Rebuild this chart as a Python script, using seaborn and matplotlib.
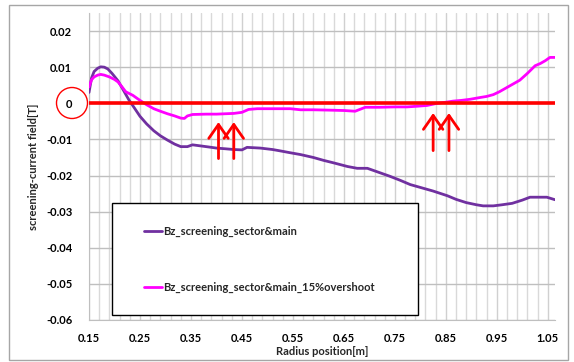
import numpy as np
import pandas as pd
import matplotlib
matplotlib.use("Agg")
import matplotlib.pyplot as plt
import seaborn as sns
from matplotlib.patches import Rectangle, Ellipse
from matplotlib.ticker import FixedLocator

# Data
r_main = [0.150, 0.155, 0.160, 0.167, 0.173, 0.180, 0.187, 0.195, 0.207, 0.218,
          0.228, 0.240, 0.250, 0.263, 0.277, 0.290, 0.304, 0.318, 0.330, 0.343,
          0.353, 0.369, 0.385, 0.400, 0.418, 0.434, 0.450, 0.460, 0.486, 0.510,
          0.526, 0.545, 0.565, 0.590, 0.610, 0.630, 0.657, 0.676, 0.696, 0.720,
          0.740, 0.760, 0.780, 0.800, 0.825, 0.853, 0.870, 0.890, 0.910, 0.923,
          0.943, 0.960, 0.980, 1.000, 1.015, 1.030, 1.048, 1.064]
bz_main = [0.0030, 0.0070, 0.0088, 0.0097, 0.0101, 0.0100, 0.0095, 0.0083, 0.0062, 0.0035,
           0.0010, -0.0015, -0.0036, -0.0057, -0.0076, -0.0090, -0.0102, -0.0113, -0.0120, -0.0120,
           -0.0115, -0.0118, -0.0121, -0.0124, -0.0126, -0.0128, -0.0129, -0.0122, -0.0124, -0.0128,
           -0.0132, -0.0137, -0.0142, -0.0150, -0.0158, -0.0165, -0.0175, -0.0180, -0.0180, -0.0192,
           -0.0202, -0.0213, -0.0225, -0.0233, -0.0243, -0.0256, -0.0266, -0.0275, -0.0281, -0.0284,
           -0.0284, -0.0281, -0.0277, -0.0268, -0.0260, -0.0260, -0.0260, -0.0267]

r_over = [0.150, 0.155, 0.160, 0.167, 0.173, 0.180, 0.190, 0.200, 0.207, 0.215,
          0.222, 0.236, 0.250, 0.263, 0.277, 0.290, 0.304, 0.318, 0.330, 0.337,
          0.343, 0.353, 0.380, 0.400, 0.434, 0.450, 0.463, 0.480, 0.500, 0.526,
          0.545, 0.565, 0.590, 0.623, 0.650, 0.672, 0.692, 0.720, 0.750, 0.774,
          0.795, 0.813, 0.833, 0.850, 0.864, 0.880, 0.897, 0.917, 0.930, 0.943,
          0.955, 0.970, 0.985, 0.995, 1.010, 1.025, 1.035, 1.045, 1.054, 1.064]
bz_over = [0.0045, 0.0065, 0.0073, 0.0078, 0.0080, 0.0078, 0.0073, 0.0066, 0.0059, 0.0045,
           0.0032, 0.0022, 0.0008, -0.0004, -0.0015, -0.0022, -0.0029, -0.0035, -0.0041, -0.0042,
           -0.0035, -0.0031, -0.0030, -0.0030, -0.0028, -0.0025, -0.0017, -0.0015, -0.0015, -0.0015,
           -0.0015, -0.0018, -0.0018, -0.0019, -0.0020, -0.0022, -0.0011, -0.0011, -0.0010, -0.0010,
           -0.0008, -0.0006, 0.0000, 0.0003, 0.0006, 0.0008, 0.0011, 0.0016, 0.0019, 0.0024,
           0.0032, 0.0044, 0.0056, 0.0064, 0.0083, 0.0104, 0.0110, 0.0118, 0.0127, 0.0127]

series_names = ["Bz_screening_sector&main", "Bz_screening_sector&main_15%overshoot"]
series_colors = ["#7030A0", "#FF00FF"]

x_ticks = [0.15, 0.25, 0.35, 0.45, 0.55, 0.65, 0.75, 0.85, 0.95, 1.05]
y_ticks = [0.02, 0.01, 0.0, -0.01, -0.02, -0.03, -0.04, -0.05, -0.06]

# annotation arrows (x, y_tail, y_head)
arrows = [(0.404, -0.0153, -0.0052), (0.434, -0.0153, -0.0052),
          (0.825, -0.0131, -0.0027), (0.856, -0.0131, -0.0027)]

df = pd.concat([
    pd.DataFrame({"r": r_main, "bz": bz_main, "series": series_names[0]}),
    pd.DataFrame({"r": r_over, "bz": bz_over, "series": series_names[1]}),
])

sns.set_style("white")
plt.rcParams["font.family"] = ["Lato", "DejaVu Sans"]
plt.rcParams["font.weight"] = "bold"
plt.rcParams["axes.unicode_minus"] = False

fig = plt.figure(figsize=(5.74, 3.62), dpi=100)
ax = fig.add_axes([89 / 574, 1 - 320 / 362, 466 / 574, 307 / 362])

sns.lineplot(data=df, x="r", y="bz", hue="series", palette=series_colors,
             estimator=None, linewidth=2.0, ax=ax, legend=False, zorder=3)

ax.set_xlim(0.15, 1.064)
ax.set_ylim(-0.06, 0.025)

# grid
ax.xaxis.set_major_locator(FixedLocator(x_ticks))
ax.xaxis.set_minor_locator(FixedLocator(np.arange(0.15, 1.064, 0.02)))
ax.yaxis.set_major_locator(FixedLocator(y_ticks))
ax.grid(which="minor", axis="x", color="#D9D9D9", lw=1.0, zorder=0)
ax.grid(which="major", axis="x", color="#D0D0D0", lw=1.0, zorder=0)
ax.grid(which="major", axis="y", color="#BFBFBF", lw=1.0, zorder=0)
ax.set_axisbelow(True)

ax.set_xticklabels([f"{v:.2f}" for v in x_ticks])
ax.set_yticklabels(["0" if v == 0 else f"{v:.2f}" for v in y_ticks])
ax.tick_params(axis="both", which="major", labelsize=8, colors="#BFBFBF",
               labelcolor="black", length=4, width=1)
ax.tick_params(axis="x", which="minor", length=0)
ax.tick_params(axis="y", pad=8)
ax.tick_params(axis="x", pad=5)

for s in ["top", "right"]:
    ax.spines[s].set_visible(False)
for s in ["left", "bottom"]:
    ax.spines[s].set_color("#BFBFBF")

ax.set_xlabel("Radius position[m]", fontsize=8, fontweight="bold", labelpad=2)
ax.set_ylabel("screening-current field[T]", fontsize=8, fontweight="bold", labelpad=5)

# red zero line
ax.axhline(0, color="#FF0000", lw=2.6, zorder=4)

# red arrows
for x, y0, y1 in arrows:
    ax.annotate("", xy=(x, y1), xytext=(x, y0),
                arrowprops=dict(arrowstyle="->,head_length=0.5,head_width=0.35",
                                color="#FF0000", lw=2.0,
                                mutation_scale=20, shrinkA=0, shrinkB=0),
                zorder=5)

# legend box
ax.add_patch(Rectangle((0.049, 0.016), 0.657, 0.365, transform=ax.transAxes,
                       facecolor="white", edgecolor="black", lw=1.0, zorder=6))
handles = [plt.Line2D([], [], color=c, lw=2.0) for c in series_colors]
leg = ax.legend(handles, series_names, loc="center left", bbox_to_anchor=(0.118, 0.197),
                frameon=False, fontsize=8, handlelength=1.6, handletextpad=0.1,
                labelspacing=4.1, borderpad=0, borderaxespad=0)
leg.set_zorder(7)
for t in leg.get_texts():
    t.set_fontweight("bold")

# red circle around the zero label
fig.add_artist(Ellipse((72 / 574, 1 - 103 / 362), 31 / 574, 31 / 362,
                       transform=fig.transFigure, fill=False, edgecolor="#FF0000", lw=1.0))

# outer chart border
fig.add_artist(Rectangle((9 / 574, 1 - 360 / 362), 559 / 574, 355 / 362,
                         transform=fig.transFigure, fill=False, edgecolor="#A6A6A6", lw=1.0))

fig.savefig("out.png", dpi=100)
